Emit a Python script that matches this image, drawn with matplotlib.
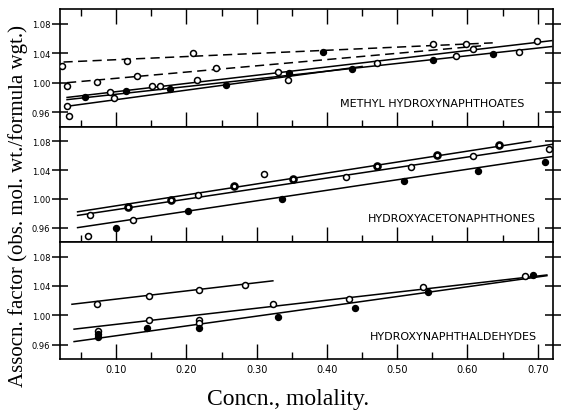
import matplotlib
matplotlib.use('Agg')
import matplotlib.pyplot as plt
from matplotlib.ticker import MultipleLocator
import numpy as np

# ---- data (x = molality, y = association factor) ----
# Panel 1: methyl hydroxynaphthoates
methyl_open_x = [0.023, 0.116, 0.210, 0.030, 0.072, 0.130, 0.242, 0.030, 0.033,
                 0.091, 0.097, 0.151, 0.163, 0.215, 0.330, 0.345, 0.471, 0.551,
                 0.598, 0.608, 0.584, 0.673, 0.699]
methyl_open_y = [1.023, 1.029, 1.040, 0.996, 1.001, 1.009, 1.020, 0.968, 0.955,
                 0.987, 0.979, 0.996, 0.996, 1.004, 1.015, 1.004, 1.027, 1.052,
                 1.053, 1.045, 1.036, 1.041, 1.057]
methyl_fill_x = [0.056, 0.114, 0.177, 0.256, 0.346, 0.394, 0.436, 0.551, 0.636]
methyl_fill_y = [0.980, 0.989, 0.992, 0.997, 1.013, 1.042, 1.019, 1.031, 1.039]
# fitted lines: (x0, x1, y0, y1)
methyl_dashed = [(0.025, 0.636, 1.028, 1.054),
                 (0.030, 0.620, 1.000, 1.050)]
methyl_solid = [(0.030, 0.720, 0.980, 1.057),
                (0.030, 0.720, 0.977, 1.049),
                (0.030, 0.450, 0.968, 1.022)]

# Panel 2: hydroxyacetonaphthones
aceto_ring_x = [0.117, 0.178, 0.268, 0.352, 0.471, 0.557, 0.645]
aceto_ring_y = [0.989, 0.999, 1.018, 1.028, 1.046, 1.061, 1.075]
aceto_open_x = [0.060, 0.062, 0.124, 0.217, 0.311, 0.427, 0.520, 0.608, 0.716]
aceto_open_y = [0.949, 0.977, 0.971, 1.005, 1.034, 1.030, 1.044, 1.060, 1.070]
aceto_fill_x = [0.099, 0.202, 0.336, 0.510, 0.615, 0.710]
aceto_fill_y = [0.959, 0.983, 1.000, 1.025, 1.039, 1.051]
aceto_solid = [(0.045, 0.690, 0.982, 1.080),
               (0.045, 0.722, 0.977, 1.076),
               (0.045, 0.722, 0.960, 1.059)]

# Panel 3: hydroxynaphthaldehydes
aldeh_open_x = [0.073, 0.146, 0.218, 0.283, 0.074, 0.147, 0.218, 0.218, 0.323,
                0.431, 0.537, 0.682]
aldeh_open_y = [1.015, 1.026, 1.034, 1.041, 0.978, 0.993, 0.994, 0.990, 1.015,
                1.022, 1.039, 1.054]
aldeh_fill_x = [0.074, 0.074, 0.144, 0.218, 0.330, 0.440, 0.544, 0.693]
aldeh_fill_y = [0.974, 0.970, 0.982, 0.982, 0.998, 1.010, 1.032, 1.055]
aldeh_solid = [(0.037, 0.323, 1.015, 1.047),
               (0.040, 0.713, 0.981, 1.055),
               (0.040, 0.713, 0.964, 1.054)]

panel_names = ['METHYL HYDROXYNAPHTHOATES', 'HYDROXYACETONAPHTHONES',
               'HYDROXYNAPHTHALDEHYDES']
y_ticks = [0.96, 1.00, 1.04, 1.08]
x_ticks = [0.10, 0.20, 0.30, 0.40, 0.50, 0.60, 0.70]

fig = plt.figure(figsize=(5.61, 4.14), dpi=100)
left, width = 0.107, 0.879
boxes = [(0.691, 0.285), (0.413, 0.278), (0.130, 0.283)]
axes = [fig.add_axes([left, b, width, h]) for b, h in boxes]

ms = 4.3
open_kw = dict(ls='none', marker='o', ms=ms, mfc='white', mec='black', mew=1.1, zorder=4)
ring_kw = dict(ls='none', marker='o', ms=ms, mfc='white', mec='black', mew=1.9, zorder=4)
fill_kw = dict(ls='none', marker='o', ms=ms, mfc='black', mec='black', mew=1.0, zorder=4)


def draw_lines(ax, lines, ls='-'):
    for x0, x1, y0, y1 in lines:
        ax.plot([x0, x1], [y0, y1], color='black', lw=1.1, ls=ls,
                dashes=(6, 3.5) if ls == '--' else (None, None), zorder=2)


ax = axes[0]
draw_lines(ax, methyl_dashed, '--')
draw_lines(ax, methyl_solid)
ax.plot(methyl_open_x, methyl_open_y, **open_kw)
ax.plot(methyl_fill_x, methyl_fill_y, **fill_kw)

ax = axes[1]
draw_lines(ax, aceto_solid)
ax.plot(aceto_ring_x, aceto_ring_y, **ring_kw)
ax.plot(aceto_open_x, aceto_open_y, **open_kw)
ax.plot(aceto_fill_x, aceto_fill_y, **fill_kw)

ax = axes[2]
draw_lines(ax, aldeh_solid)
ax.plot(aldeh_open_x, aldeh_open_y, **open_kw)
ax.plot(aldeh_fill_x, aldeh_fill_y, **fill_kw)

# label centres in axes fractions
label_pos = [(0.755, 0.203), (0.795, 0.209), (0.797, 0.197)]
for i, ax in enumerate(axes):
    ax.set_xlim(0.02, 0.722)
    ax.set_ylim(0.94, 1.10)
    for s in ax.spines.values():
        s.set_linewidth(1.2)
    ax.set_yticks(y_ticks)
    ax.set_yticklabels([f'{v:.2f}' for v in y_ticks], fontsize=6)
    ax.xaxis.set_major_locator(MultipleLocator(0.10))
    ax.xaxis.set_minor_locator(MultipleLocator(0.05))
    ax.tick_params(axis='y', which='major', left=True, right=True,
                   direction='inout', length=12, width=1.1, pad=1)
    ax.tick_params(axis='x', which='major', direction='in', length=11,
                   width=1.0, top=(i == 0), bottom=True)
    ax.tick_params(axis='x', which='minor', direction='in', length=5,
                   width=1.0, top=(i == 0), bottom=True)
    if i < 2:
        ax.tick_params(axis='x', labelbottom=False)
    else:
        ax.set_xticks(x_ticks)
        ax.set_xticklabels([f'{v:.2f}' for v in x_ticks], fontsize=7)
    lx, ly = label_pos[i]
    ax.text(lx, ly, panel_names[i], transform=ax.transAxes, ha='center',
            va='center', fontsize=8)

fig.text(0.032, 0.502, 'Assocn. factor (obs. mol. wt./formula wgt.)',
         rotation=90, ha='center', va='center', fontsize=15,
         family='Liberation Serif')
fig.text(0.513, 0.035, 'Concn., molality.', ha='center', va='center',
         fontsize=17, family='Liberation Serif')

fig.savefig('out.png', dpi=100)
